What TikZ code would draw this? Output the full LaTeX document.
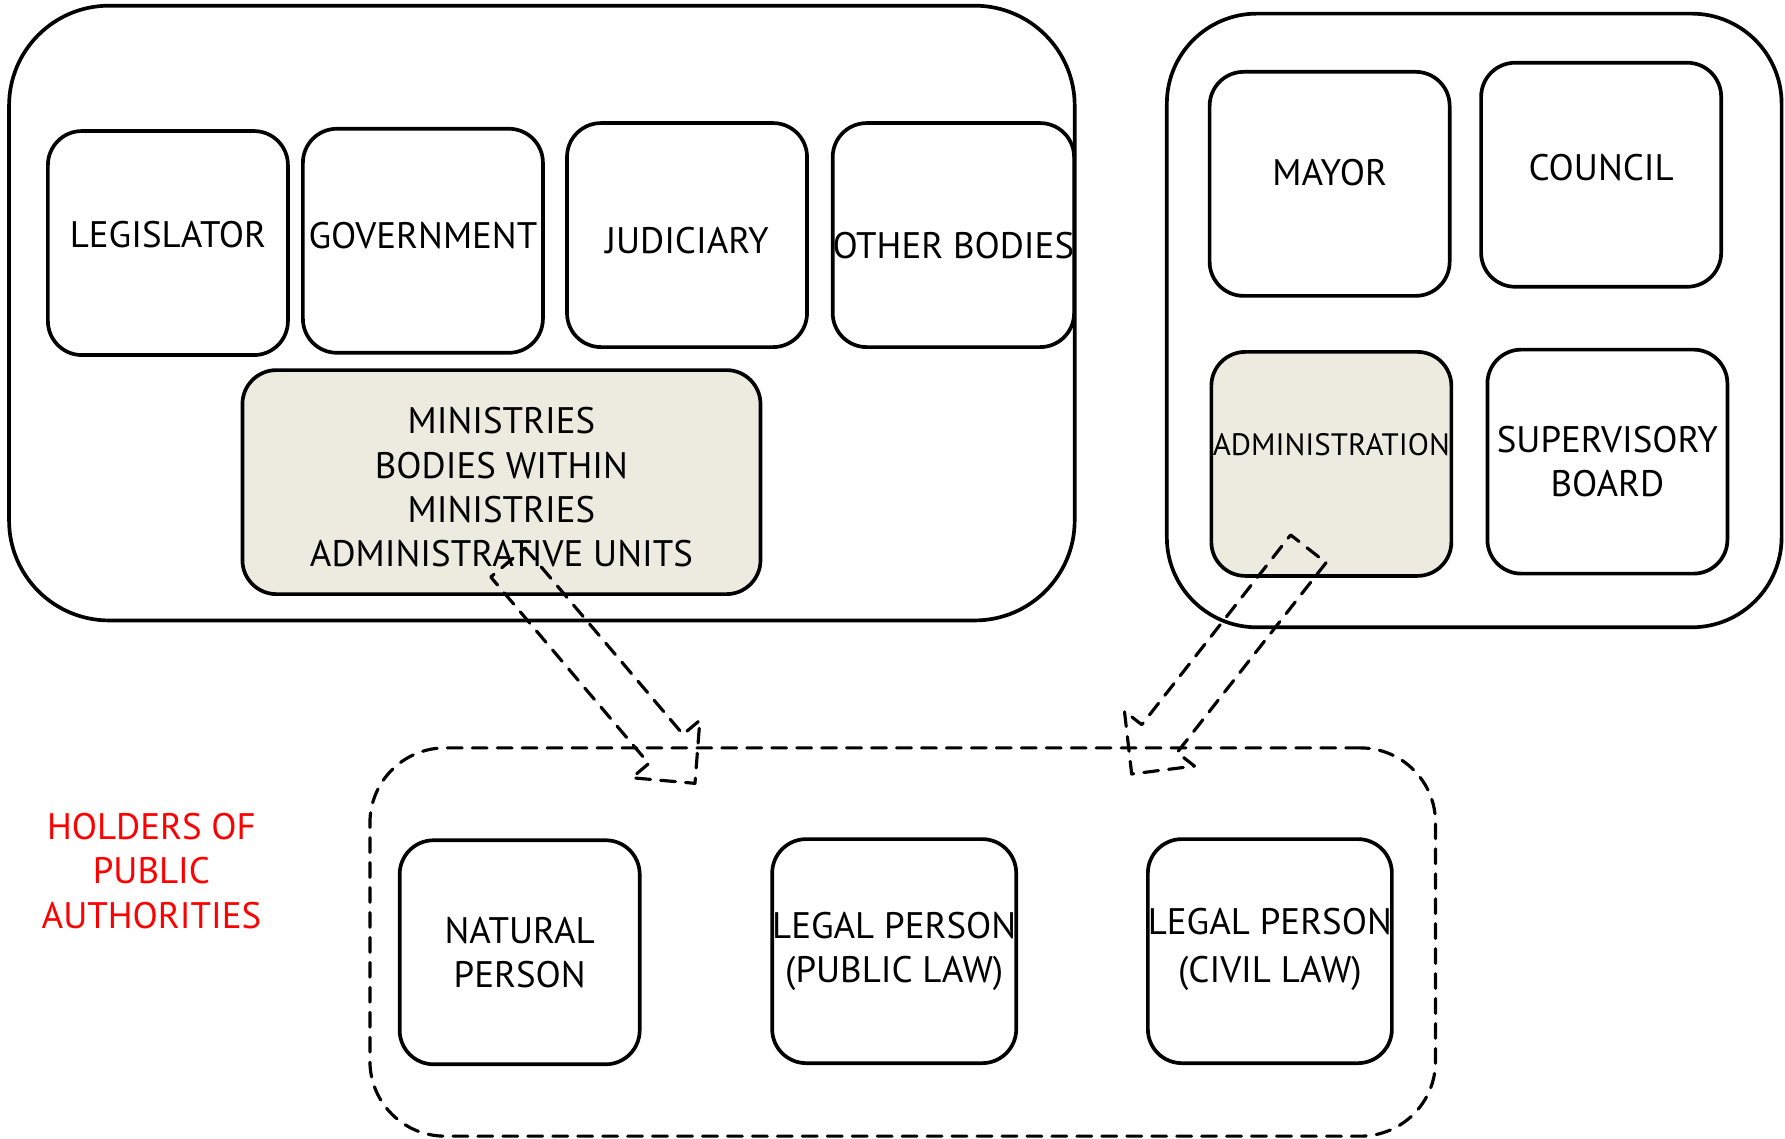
\documentclass[tikz,border=0pt]{standalone}
\usepackage{fontspec}
\setmainfont{PT Sans}
\usetikzlibrary{calc}
\definecolor{shade}{RGB}{237,235,224}
% hollow dashed block arrow from #1 (tail) to #2 (tip)
\newcommand{\blockarrow}[2]{%
  \coordinate (#1h) at ($(#2)!0.45cm!(#1)$);
  \draw[arrowline] ($(#1)!0.225cm!90:(#2)$) -- ($(#1h)!0.225cm!90:(#2)$)
    -- ($(#1h)!0.445cm!90:(#2)$) -- (#2) -- ($(#1h)!0.445cm!-90:(#2)$)
    -- ($(#1h)!0.225cm!-90:(#2)$) -- ($(#1)!0.225cm!-90:(#2)$) -- cycle;}
% text moved up by #1 without changing the box
\newcommand{\up}[2]{\raisebox{#1}[\height][\depth]{#2}}

\begin{document}
\begin{tikzpicture}[line cap=round,line join=round,x=0.011384cm,y=-0.011384cm,
  txt/.style={font=\fontsize{10.5pt}{12.6pt}\selectfont,align=center,inner sep=0pt},
  box/.style={txt,draw,line width=1.05pt,rounded corners=0.34cm,minimum width=2.4cm,minimum height=2.24cm},
  bigbox/.style={draw,line width=1.05pt,inner sep=0pt},
  dashpat/.style={dash pattern=on 4.2pt off 2.9pt},
  arrowline/.style={line width=0.9pt,dashpat}]
  \useasboundingbox (0,0) rectangle (1568,1000);
  % outer frames
  \node[bigbox,rounded corners=1.0cm,minimum width=10.655cm,minimum height=6.147cm] (state) at (476,275) {};
  \node[bigbox,rounded corners=0.9cm,minimum width=6.147cm,minimum height=6.136cm] (muni) at (1295,281.5) {};
  \node[bigbox,line width=0.9pt,dashpat,rounded corners=0.75cm,minimum width=10.655cm,minimum height=3.882cm] (holders) at (793,827.5) {};
  % state bodies
  \node[box] (leg) at (147.5,213.5) {\up{2.3pt}{LEGISLATOR}};
  \node[box] (gov) at (371.5,211.5) {\up{1.6pt}{GOVERNMENT}};
  \node[box] (jud) at (603.5,206.5) {\up{-1.6pt}{JUDICIARY}};
  \node[box] (other) at (837.5,206.5) {\up{-2.9pt}{OTHER BODIES}};
  \node[box,fill=shade,minimum width=5.18cm] (min) at (440.5,423.5)
    {\up{-1.5pt}{MINISTRIES}\\\up{-1.5pt}{BODIES WITHIN}\\\up{-1.5pt}{MINISTRIES}\\\up{-1.5pt}{ADMINISTRATIVE UNITS}};
  % municipal bodies
  \node[box] (mayor) at (1168,161.5) {\up{3.2pt}{MAYOR}};
  \node[box] (council) at (1406.5,153.5) {\up{2pt}{COUNCIL}};
  \node[box,fill=shade,font=\fontsize{8.8pt}{11pt}\selectfont] (admin) at (1169.5,407.5) {\up{5.5pt}{ADMINISTRATION}};
  \node[box] (superv) at (1412,405.5) {SUPERVISORY\\BOARD};
  % holders
  \node[box] (natural) at (456.5,836.5) {NATURAL\\PERSON};
  \node[box] (publiclaw) at (785.5,835.5) {LEGAL PERSON\\(PUBLIC LAW)};
  \node[box] (civillaw) at (1115.5,835.5) {\up{1pt}{LEGAL PERSON}\\(CIVIL LAW)};
  \node[txt,text=red] (label) at (133,765) {HOLDERS OF\\PUBLIC\\AUTHORITIES};
  % arrows
  \coordinate (mintail) at (446.2,494.1);
  \coordinate (mintip) at (610.5,688.1);
  \coordinate (admintail) at (1149.3,482.1);
  \coordinate (admintip) at (994.1,679.9);
  \blockarrow{mintail}{mintip}
  \blockarrow{admintail}{admintip}
\end{tikzpicture}
\end{document}
